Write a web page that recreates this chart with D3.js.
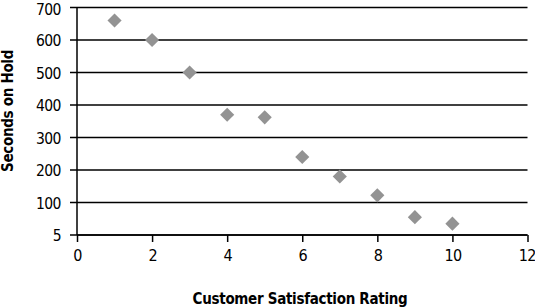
<!DOCTYPE html>
<html><head><meta charset="utf-8">
<script src="https://cdn.jsdelivr.net/npm/d3@7"></script>
<style>
body{margin:0;background:#fff;}
text{font-family:"DejaVu Sans Condensed",sans-serif;}
</style></head><body>
<svg id="c" width="535" height="307"></svg>
<script>
const ratings = [1,2,3,4,5,6,7,8,9,10];
const secondsOnHold = [660,600,500,370,362,240,180,122,55,35];
const xTicks = [0,2,4,6,8,10,12];
const yTicks = [0,100,200,300,400,500,600,700];
const yTickLabels = ["5","100","200","300","400","500","600","700"];
const xTitle = "Customer Satisfaction Rating";
const yTitle = "Seconds on Hold";

(function(){
const svg = d3.select("#c");
const mL = 77, mR = 527.5, mT = 7.5, mB = 235;
const x = d3.scaleLinear().domain([0,12]).range([mL,mR]);
const y = d3.scaleLinear().domain([0,700]).range([mB,mT]);
const FF = '"DejaVu Sans Condensed",sans-serif';

// gridlines
svg.append("g").selectAll("line").data(yTicks).join("line")
  .attr("x1",mL-7).attr("x2",mR)
  .attr("y1",d=>y(d)).attr("y2",d=>y(d))
  .attr("stroke","#000").attr("stroke-width",1.3);

// y axis
const yAxis = svg.append("g").attr("transform",`translate(${mL},0)`)
  .call(d3.axisLeft(y).tickValues(yTicks).tickFormat((d,i)=>yTickLabels[i]).tickSize(7).tickPadding(9));
yAxis.select(".domain").attr("stroke","#000").attr("stroke-width",1.5).attr("d",`M0,${mT}V${mB}`);
yAxis.selectAll(".tick line").attr("stroke","none");
yAxis.selectAll("text").attr("font-size",15.5).attr("fill","#000").attr("font-family",FF)
  .attr("letter-spacing",-0.5).attr("y",d=>d===700?2.2:0.8);

// x axis
const xAxis = svg.append("g").attr("transform",`translate(0,${mB})`)
  .call(d3.axisBottom(x).tickValues(xTicks).tickFormat(d3.format("d")).tickSize(7).tickPadding(8));
xAxis.select(".domain").attr("stroke","#000").attr("stroke-width",1.5).attr("d",`M${mL},0H${mR}`);
xAxis.selectAll(".tick line").attr("stroke","#000").attr("stroke-width",1.5);
xAxis.selectAll("text").attr("font-size",16).attr("fill","#000").attr("font-family",FF)
  .attr("letter-spacing",-0.8);
xAxis.selectAll(".tick").filter(d=>d===12).select("text").attr("text-anchor","end").attr("x",7.5);

// points
const diamond = d3.symbol().type(d3.symbolSquare).size(100);
svg.append("g").selectAll("path").data(ratings).join("path")
  .attr("d",diamond())
  .attr("transform",(d,i)=>`translate(${x(d)},${y(secondsOnHold[i])}) rotate(45)`)
  .attr("fill","#939393");

// titles
svg.append("text").attr("x",300).attr("y",304).attr("text-anchor","middle")
  .attr("font-size",15).attr("font-weight","bold").attr("font-family",FF)
  .attr("letter-spacing",-0.3).text(xTitle);
svg.append("text").attr("transform","translate(13,111) rotate(-90)").attr("text-anchor","middle")
  .attr("font-size",15).attr("font-weight","bold").attr("font-family",FF)
  .attr("letter-spacing",-0.3).text(yTitle);
})();
</script>
</body></html>
